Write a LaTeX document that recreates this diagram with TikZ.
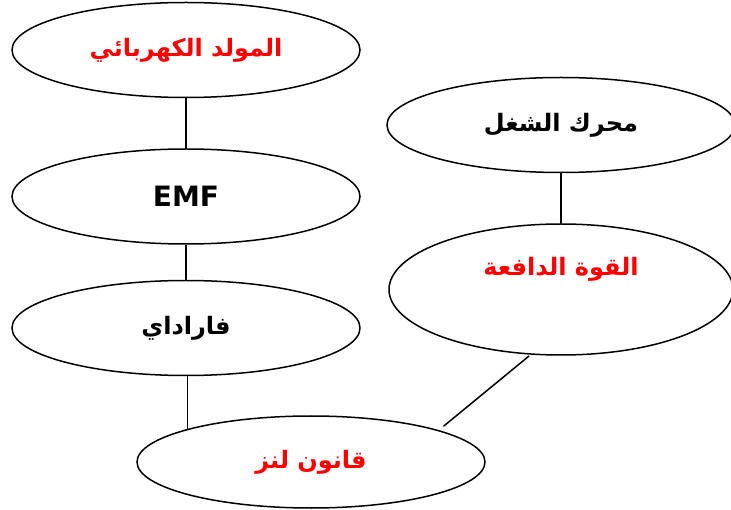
\documentclass[tikz,border=0pt]{standalone}
\usepackage{fontspec}
\setmainfont{DejaVu Sans}
\newfontfamily\arabicfont[Script=Arabic]{DejaVu Sans}
\TeXXeTstate=1
\usetikzlibrary{
positioning,
shapes.geometric
}

\newcommand{\ar}[1]{{\arabicfont\bfseries\fontsize{24}{28}\selectfont\beginR #1\endR}}

\begin{document}
\begin{tikzpicture}[
x=1pt,y=-1pt,
node distance=50pt,
oval/.style={
draw,
ellipse,
line width=1.5pt,
inner sep=0pt,
minimum width=348pt,
minimum height=95pt,
font=\fontsize{28}{32}\selectfont\bfseries
},
link/.style={line width=1.5pt}
]

\clip (0,0) rectangle (731,510);

\node[oval,text=red] (gen) at (186,50) {\ar{المولد الكهربائي}};

\node[oval,below=of gen] (emf) {EMF};

\node[oval,below=35pt of emf] (faraday) {\ar{فاراداي}};

\node[oval] (motor) at (561,125) {\ar{محرك الشغل}};

\node[oval,below=of motor,minimum width=344pt,minimum height=131pt,
label={[text=red,yshift=20pt]center:\ar{القوة الدافعة}}] (force) {};

\node[oval,text=red,minimum height=92pt] (lenz) at (311,462) {\ar{قانون لنز}};

\draw[link] (gen) -- (emf);
\draw[link] (emf) -- (faraday);
\draw[link] (faraday.south -| lenz.165) -- (lenz.165);
\draw[link] (motor) -- (force);
\draw[link,shorten <=2pt,shorten >=6pt] (force.245) -- (lenz.14);

\end{tikzpicture}
\end{document}
